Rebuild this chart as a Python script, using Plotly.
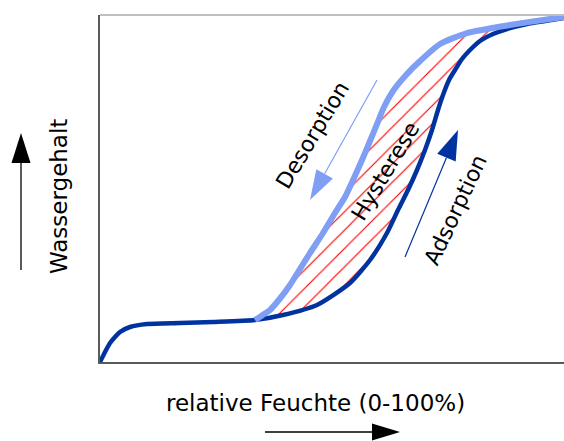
import math
import plotly.graph_objects as go

# ---- data (relative humidity %, water content %) ----
ads_x = [0, 1.08, 2.16, 4.31, 6.47, 10.13, 17.24, 24.35, 33.41, 39.44, 46.77, 53.88, 58.19,
         61.85, 64.22, 66.38, 68.32, 70.04, 71.55, 72.84, 73.92, 75.22, 76.51, 78.02, 79.74,
         81.90, 84.70, 87.72, 92.03, 95.91, 100.0]
ads_y = [0, 2.88, 5.48, 8.65, 10.09, 10.95, 11.24, 11.53, 12.10, 13.54, 16.43, 22.77, 29.39,
         37.18, 43.80, 49.57, 55.33, 61.10, 66.86, 72.62, 76.95, 81.27, 84.15, 87.32, 89.91,
         92.51, 94.52, 95.97, 97.41, 98.27, 99.14]
des_x = [33.41, 34.91, 36.64, 38.79, 40.95, 43.10, 45.26, 48.06, 50.65, 52.80, 54.53, 56.47,
         58.19, 59.70, 61.21, 63.15, 66.16, 68.97, 73.28, 79.09, 88.36, 100.0]
des_y = [12.10, 13.40, 14.99, 18.30, 22.19, 26.80, 31.41, 37.18, 42.94, 47.55, 52.45, 58.21,
         63.69, 68.59, 73.49, 78.10, 83.00, 86.74, 91.64, 94.81, 97.12, 99.42]

x_title = "relative Feuchte (0-100%)"
y_title = "Wassergehalt"

DARK = "#0033a0"
LIGHT = "#7f9ff5"
FONT = "DejaVu Sans"
FS = 23

W, H = 564, 441
L, R, T, B = 100, 0, 15, 79
PW, PH = W - L - R, H - T - B


def paper(px, py):
    return (px - L) / PW, (H - B - py) / PH


fig = go.Figure()

# hysteresis area (hatched)
start = ads_x.index(des_x[0])
poly_x = des_x + ads_x[start:][::-1]
poly_y = des_y + ads_y[start:][::-1]
fig.add_trace(go.Scatter(
    x=poly_x, y=poly_y, mode="lines", line=dict(width=0),
    fill="toself", fillcolor="rgba(255,255,255,0)",
    fillpattern=dict(shape="/", fgcolor="#ff0000", bgcolor="rgba(255,255,255,0)",
                     size=13, solidity=0.09, fillmode="replace"),
    hoverinfo="skip", showlegend=False))

fig.add_trace(go.Scatter(x=ads_x, y=ads_y, mode="lines",
                         line=dict(color=DARK, width=4.5, shape="spline", smoothing=0.6),
                         showlegend=False))
fig.add_trace(go.Scatter(x=des_x, y=des_y, mode="lines",
                         line=dict(color=LIGHT, width=6, shape="spline", smoothing=0.6),
                         showlegend=False))

shapes = []


def arrow(tail, tip, hl, hw, color, lw):
    dx, dy = tip[0] - tail[0], tip[1] - tail[1]
    n = math.hypot(dx, dy)
    ux, uy = dx / n, dy / n
    bx, by = tip[0] - hl * ux, tip[1] - hl * uy
    nx, ny = -uy, ux
    p1 = (bx + nx * hw / 2, by + ny * hw / 2)
    p2 = (bx - nx * hw / 2, by - ny * hw / 2)
    a = paper(*tail)
    b = paper(bx, by)
    shapes.append(dict(type="line", xref="paper", yref="paper", x0=a[0], y0=a[1],
                       x1=b[0], y1=b[1], line=dict(color=color, width=lw)))
    pts = [paper(*tip), paper(*p1), paper(*p2)]
    path = "M{},{} L{},{} L{},{} Z".format(pts[0][0], pts[0][1], pts[1][0], pts[1][1],
                                           pts[2][0], pts[2][1])
    shapes.append(dict(type="path", xref="paper", yref="paper", path=path,
                       fillcolor=color, line=dict(width=0)))


arrow((21, 270), (21, 133), 30, 19, "#000000", 1.3)
arrow((265, 432), (400, 432), 28, 17, "#000000", 1.3)
arrow((377, 80), (310, 200), 30, 19, LIGHT, 1.2)
arrow((405, 257), (458, 130), 30, 20, DARK, 1.2)

# top border
shapes.append(dict(type="line", xref="paper", yref="paper", x0=0, x1=1, y0=1, y1=1,
                   line=dict(color="#bfbfbf", width=2)))

annotations = []


def label(text, px, py, angle, size=FS):
    x, y = paper(px, py)
    annotations.append(dict(text=text, x=x, y=y, xref="paper", yref="paper",
                            showarrow=False, textangle=angle, xanchor="center",
                            yanchor="middle", font=dict(family=FONT, size=size, color="#000000")))


label(y_title, 59, 197, -90)
label(x_title, 315, 403, 0)
label("Desorption", 312, 135, -59, 22)
label("Hysterese", 385, 171, -59, 22)
label("Adsorption", 455, 210, -65, 22)

fig.update_layout(
    width=W, height=H, margin=dict(l=L, r=R, t=T, b=B),
    paper_bgcolor="white", plot_bgcolor="white",
    xaxis=dict(range=[0, 100], showgrid=False, zeroline=False, showticklabels=False,
               ticks="", showline=True, linecolor="#595959", linewidth=2),
    yaxis=dict(range=[0, 100], showgrid=False, zeroline=False, showticklabels=False,
               ticks="", showline=True, linecolor="#595959", linewidth=2),
    shapes=shapes, annotations=annotations,
)

fig.write_html("out.html", config={"displayModeBar": False},
               post_script="document.body.style.margin='0';document.body.style.overflow='hidden';")
